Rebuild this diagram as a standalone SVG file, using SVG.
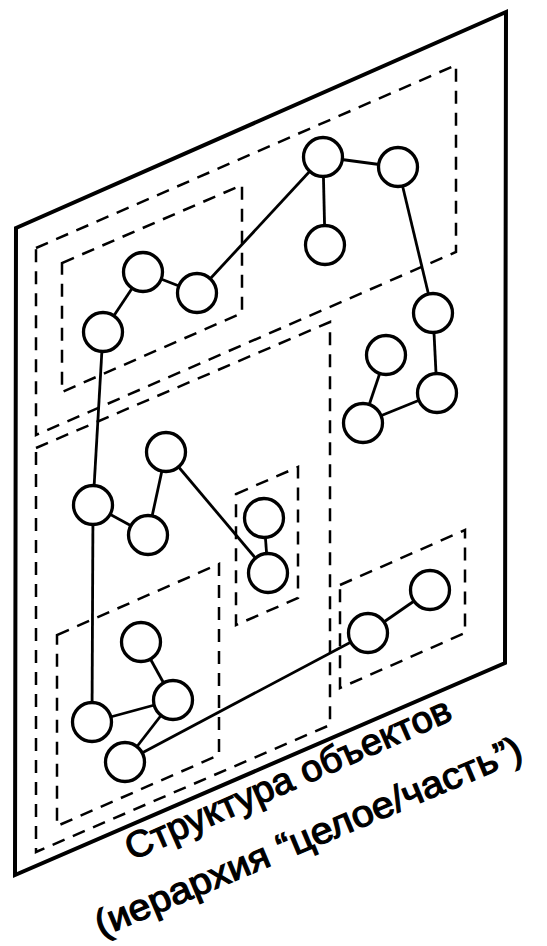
<svg xmlns="http://www.w3.org/2000/svg" width="547" height="946" viewBox="0 0 547 946">
<style>
.frame{fill:none;stroke:#000;stroke-width:4;stroke-linejoin:miter}
.box{fill:none;stroke:#000;stroke-width:2.5;stroke-dasharray:13 9}
.edge{stroke:#000;stroke-width:2.8;fill:none}
.node{fill:#fff;stroke:#000;stroke-width:3.3}
.lbl{font-family:"Liberation Sans",Arial,sans-serif;font-size:37px;fill:#000;stroke:#000;stroke-width:1.2}
</style>
<rect width="547" height="946" fill="#fff"/>
<polygon class="frame" points="16,228 506,12 505,663 15,875"/>
<g id="boxes">
<polygon class="box" points="36,248 456,65 456,252 36,435"/>
<polygon class="box" points="62,263 242,185 242,313 62,392"/>
<polygon class="box" points="36,448 330,322 330,725 36,852"/>
<polygon class="box" points="236,494 298,467 298,598 236,625"/>
<polygon class="box" points="57,635 219,564 219,755 57,826"/>
<polygon class="box" points="340,585 465,530 465,633 340,688"/>
</g>
<g id="connectors">
<line class="edge" x1="323" y1="157" x2="398" y2="167"/>
<line class="edge" x1="323" y1="157" x2="325" y2="245"/>
<line class="edge" x1="323" y1="157" x2="197" y2="293"/>
<line class="edge" x1="197" y1="293" x2="143" y2="272"/>
<line class="edge" x1="143" y1="272" x2="103" y2="332"/>
<line class="edge" x1="398" y1="167" x2="433" y2="313"/>
<line class="edge" x1="433" y1="313" x2="437" y2="393"/>
<line class="edge" x1="386" y1="355" x2="363" y2="423"/>
<line class="edge" x1="363" y1="423" x2="437" y2="393"/>
<line class="edge" x1="103" y1="332" x2="93" y2="505"/>
<line class="edge" x1="93" y1="505" x2="148" y2="535"/>
<line class="edge" x1="148" y1="535" x2="166" y2="452"/>
<line class="edge" x1="166" y1="452" x2="268" y2="573"/>
<line class="edge" x1="264" y1="518" x2="268" y2="573"/>
<line class="edge" x1="93" y1="505" x2="92" y2="722"/>
<line class="edge" x1="141" y1="642" x2="173" y2="700"/>
<line class="edge" x1="92" y1="722" x2="173" y2="700"/>
<line class="edge" x1="173" y1="700" x2="125" y2="762"/>
<line class="edge" x1="125" y1="762" x2="368" y2="633"/>
<line class="edge" x1="368" y1="633" x2="430" y2="590"/>
</g>
<g id="n1"><circle class="node" cx="323" cy="157" r="19.5"/></g>
<g id="n2"><circle class="node" cx="398" cy="167" r="19.5"/></g>
<g id="n3"><circle class="node" cx="325" cy="245" r="19.5"/></g>
<g id="n4"><circle class="node" cx="143" cy="272" r="19.5"/></g>
<g id="n5"><circle class="node" cx="197" cy="293" r="19.5"/></g>
<g id="n6"><circle class="node" cx="103" cy="332" r="19.5"/></g>
<g id="n7"><circle class="node" cx="433" cy="313" r="19.5"/></g>
<g id="n8"><circle class="node" cx="386" cy="355" r="19.5"/></g>
<g id="n9"><circle class="node" cx="437" cy="393" r="19.5"/></g>
<g id="n10"><circle class="node" cx="363" cy="423" r="19.5"/></g>
<g id="n11"><circle class="node" cx="166" cy="452" r="19.5"/></g>
<g id="n12"><circle class="node" cx="93" cy="505" r="19.5"/></g>
<g id="n13"><circle class="node" cx="148" cy="535" r="19.5"/></g>
<g id="n14"><circle class="node" cx="264" cy="518" r="19.5"/></g>
<g id="n15"><circle class="node" cx="268" cy="573" r="19.5"/></g>
<g id="n16"><circle class="node" cx="430" cy="590" r="19.5"/></g>
<g id="n17"><circle class="node" cx="368" cy="633" r="19.5"/></g>
<g id="n18"><circle class="node" cx="141" cy="642" r="19.5"/></g>
<g id="n19"><circle class="node" cx="173" cy="700" r="19.5"/></g>
<g id="n20"><circle class="node" cx="92" cy="722" r="19.5"/></g>
<g id="n21"><circle class="node" cx="125" cy="762" r="19.5"/></g>
<g id="label">
<text class="lbl" text-anchor="middle" textLength="352" lengthAdjust="spacingAndGlyphs" transform="translate(293,790) rotate(-23.7)">Структура объектов</text>
<text class="lbl" text-anchor="middle" textLength="460" lengthAdjust="spacingAndGlyphs" transform="translate(313,848) rotate(-22.8)">(иерархия “целое/часть”)</text>
</g>
</svg>
